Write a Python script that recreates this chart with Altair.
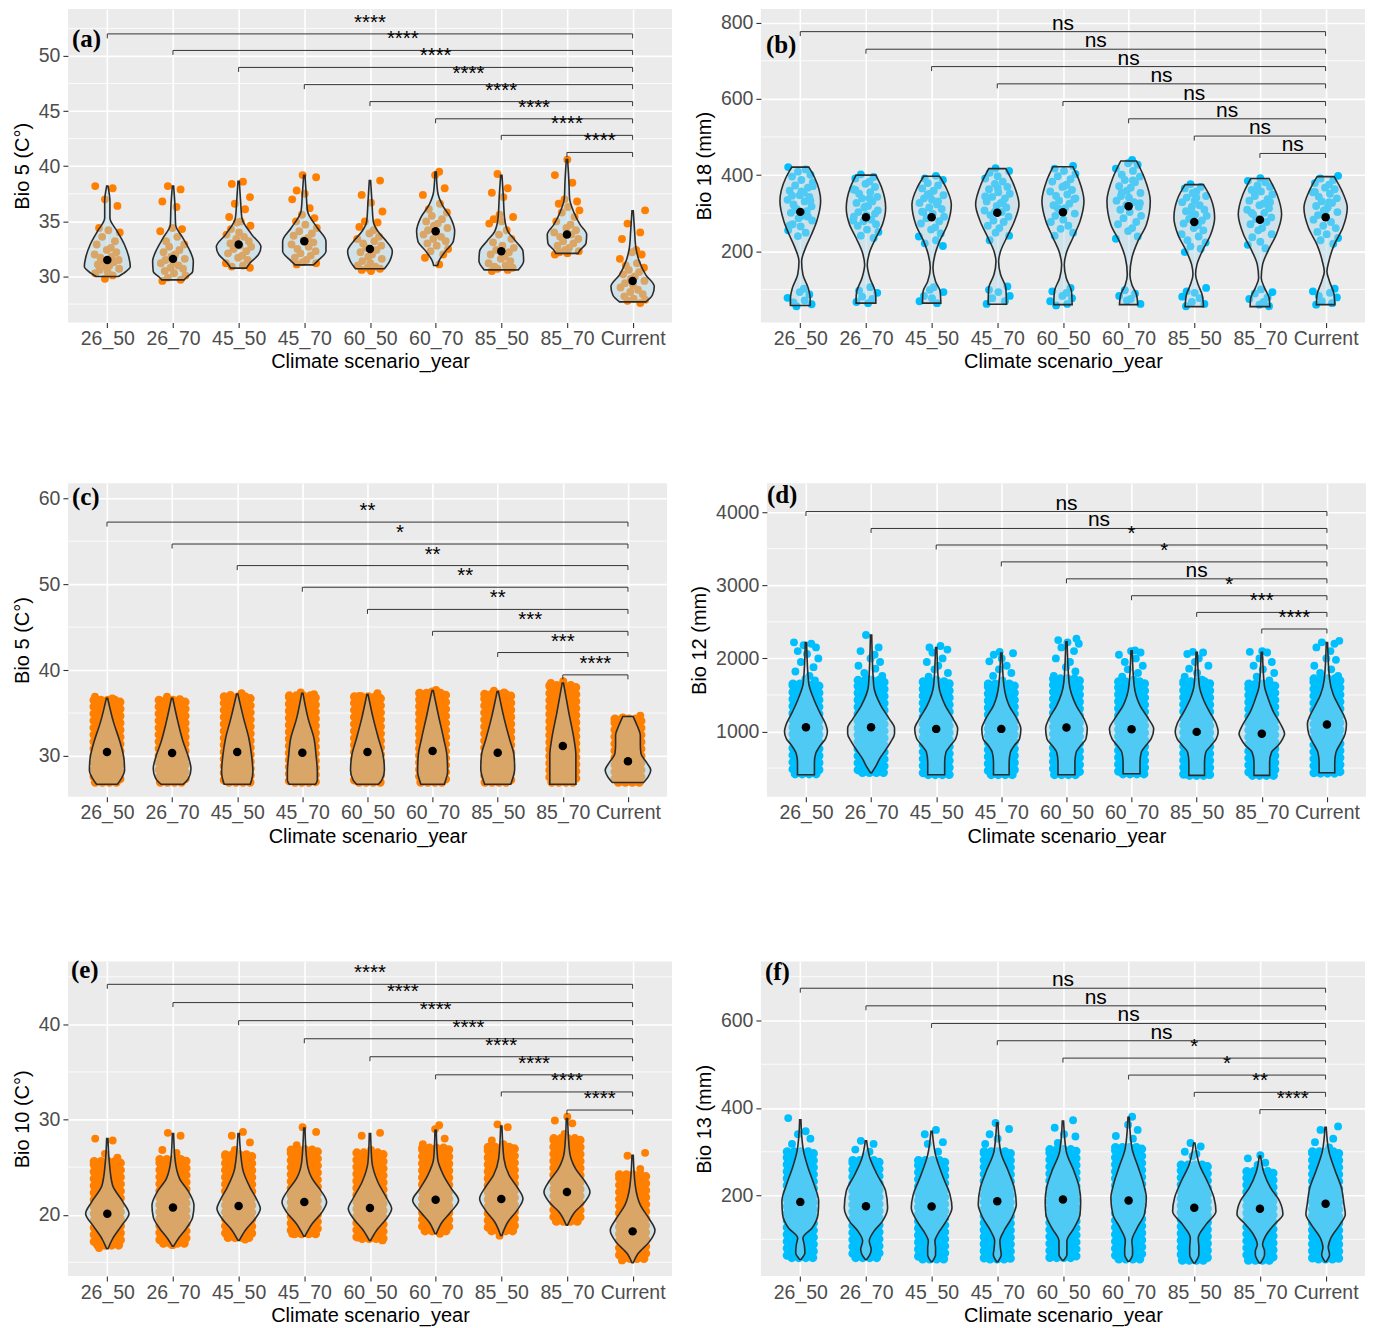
import altair as alt
import pandas as pd

CATS = ["26_50", "26_70", "45_50", "45_70", "60_50", "60_70", "85_50", "85_70", "Current"]
X_TITLE = "Climate scenario_year"
ORANGE = "#FF7F00"
BLUE = "#00BFFF"

# ---------------- panel (a) ----------------
A_YTITLE = "Bio 5 (C°)"
A_TICKS = [30, 35, 40, 45, 50]
A_MINOR = [27.5, 32.5, 37.5, 42.5, 47.5, 52.5]
A_DOMAIN = [25.83, 54.26]
A_MEANS = [31.5, 31.6, 32.9, 33.2, 32.5, 34.1, 32.3, 33.8, 29.6]
A_VIOLINS = [
    [[30.0, .17], [30.3, .25], [30.9, .35], [31.7, .33], [32.9, .26], [34.1, .15], [35.3, .04], [36.8, .04], [38.2, .01]],
    [[29.7, .17], [30.0, .22], [30.45, .3], [31.4, .31], [32.3, .26], [33.5, .15], [34.7, .04], [36.5, .03], [38.2, .01]],
    [[30.76, .12], [31.2, .17], [31.97, .3], [32.7, .34], [33.8, .2], [35.3, .05], [36.8, .03], [38.64, .01]],
    [[31.06, .14], [31.4, .2], [32.3, .33], [33.2, .33], [34.4, .2], [35.9, .05], [37.4, .03], [39.18, .01]],
    [[30.7, .22], [31.4, .3], [32.3, .34], [33.2, .25], [34.1, .12], [35.0, .05], [36.8, .03], [38.7, .01]],
    [[31.0, .03], [31.4, .05], [32.3, .15], [33.2, .27], [34.1, .29], [35.3, .23], [36.5, .1], [37.7, .03], [39.48, .01]],
    [[30.6, .26], [31.4, .34], [32.3, .33], [33.2, .22], [34.1, .1], [35.3, .05], [37.4, .03], [39.18, .01]],
    [[32.1, .17], [32.4, .2], [33.0, .29], [33.8, .3], [34.7, .2], [35.9, .1], [37.1, .04], [38.6, .03], [40.6, .01]],
    [[27.7, .2], [28.3, .3], [29.1, .33], [30.15, .2], [31.4, .1], [32.6, .05], [34.1, .03], [35.97, .01]],
]
A_POINTS = [
    [38.2, 38.0, 37.0, 36.4, 34.4, 34.2, 34.0, 33.6, 33.2, 32.9, 32.6, 32.4, 32.2, 32.0, 31.8, 31.7, 31.5, 31.4, 31.3, 31.1, 31.0, 30.9, 30.7, 30.6, 30.4, 30.3, 30.1, 29.8],
    [38.2, 37.9, 36.8, 36.3, 34.4, 34.3, 34.1, 33.6, 33.2, 32.9, 32.7, 32.4, 32.2, 32.0, 31.8, 31.6, 31.5, 31.3, 31.2, 31.0, 30.8, 30.7, 30.5, 30.3, 30.1, 29.9, 29.7, 29.6],
    [38.6, 38.4, 37.2, 36.6, 36.1, 35.4, 35.0, 34.9, 34.6, 34.3, 34.0, 33.8, 33.6, 33.4, 33.2, 33.0, 32.8, 32.7, 32.5, 32.3, 32.1, 31.9, 31.7, 31.5, 31.2, 31.0, 30.9, 30.8],
    [39.2, 39.0, 37.8, 37.5, 37.0, 36.2, 35.6, 35.3, 35.0, 34.7, 34.4, 34.1, 33.9, 33.7, 33.5, 33.3, 33.1, 32.9, 32.7, 32.5, 32.3, 32.1, 31.9, 31.7, 31.5, 31.3, 31.2, 31.1],
    [38.7, 37.4, 36.7, 35.9, 35.0, 34.9, 34.5, 34.2, 33.9, 33.6, 33.4, 33.2, 33.0, 32.8, 32.6, 32.4, 32.2, 32.0, 31.8, 31.6, 31.4, 31.2, 31.0, 30.9, 30.8, 30.7, 30.6, 30.5],
    [39.5, 39.2, 38.0, 37.4, 36.6, 36.1, 35.8, 35.5, 35.2, 35.0, 34.8, 34.6, 34.4, 34.2, 34.0, 33.8, 33.6, 33.4, 33.2, 33.0, 32.8, 32.5, 32.3, 32.0, 31.7, 31.1],
    [39.3, 38.0, 37.6, 37.2, 35.6, 35.4, 35.2, 35.0, 34.8, 34.2, 33.8, 33.4, 33.1, 32.8, 32.6, 32.4, 32.2, 32.0, 31.8, 31.6, 31.4, 31.2, 31.0, 30.9, 30.8, 30.7, 30.6, 30.5],
    [40.6, 39.2, 38.5, 37.0, 36.8, 36.6, 36.3, 36.0, 35.8, 35.4, 35.0, 34.7, 34.4, 34.2, 34.0, 33.8, 33.6, 33.4, 33.2, 33.0, 32.8, 32.6, 32.4, 32.3, 32.2, 32.1, 32.0],
    [36.0, 34.8, 34.0, 33.4, 32.4, 32.2, 32.0, 31.6, 31.2, 31.0, 30.8, 30.6, 30.4, 30.2, 30.0, 29.8, 29.6, 29.4, 29.2, 29.0, 28.8, 28.6, 28.4, 28.2, 28.0, 27.9, 27.8, 27.6],
]
A_BRACKET_Y = [52.0, 50.5, 48.96, 47.4, 45.86, 44.3, 42.8, 41.25]
A_SIGNIF = ["****", "****", "****", "****", "****", "****", "****", "****"]

# ---------------- panel (b) ----------------
B_YTITLE = "Bio 18 (mm)"
B_TICKS = [200, 400, 600, 800]
B_MINOR = [100, 300, 500, 700]
B_DOMAIN = [13.2, 835.9]
B_MEANS = [303.5, 289.5, 289.5, 301, 302.7, 318.4, 277, 283, 289.5]
B_VIOLINS = [
    [[58, .15], [77, .15], [104, .12], [139, .04], [174, .02], [209, .08], [244, .17], [279, .25], [332, .31], [393, .22], [421, .13]],
    [[64, .15], [77, .15], [95, .14], [130, .06], [165, .02], [200, .06], [235, .15], [270, .25], [314, .3], [367, .24], [400, .15]],
    [[64, .14], [95, .13], [121, .06], [156, .02], [191, .05], [226, .12], [270, .24], [323, .3], [367, .22], [397, .12]],
    [[61, .14], [104, .13], [139, .05], [174, .02], [200, .05], [235, .14], [279, .26], [323, .33], [375, .25], [417, .13]],
    [[60, .14], [95, .13], [130, .05], [165, .02], [200, .06], [235, .15], [279, .26], [332, .32], [384, .25], [422, .15]],
    [[60, .14], [86, .12], [112, .05], [139, .02], [183, .05], [226, .14], [270, .27], [332, .33], [393, .24], [437, .12]],
    [[55, .14], [86, .12], [112, .06], [139, .02], [165, .04], [200, .12], [244, .25], [288, .31], [340, .25], [375, .14]],
    [[55, .15], [77, .14], [104, .07], [130, .02], [165, .04], [200, .12], [244, .25], [297, .33], [349, .26], [391, .14]],
    [[60, .14], [86, .13], [121, .06], [147, .02], [174, .05], [217, .13], [261, .26], [314, .33], [358, .25], [396, .13]],
]
B_POINTS = [
    [421, 415, 409, 401, 396, 387, 381, 373, 367, 359, 354, 347, 343, 335, 331, 323, 318, 311, 305, 301, 293, 287, 281, 271, 265, 255, 249, 240, 333, 346, 357, 371, 309, 291, 268, 102, 93, 87, 78, 71, 66, 61, 56],
    [402, 395, 391, 383, 377, 369, 363, 355, 351, 343, 339, 331, 327, 319, 315, 307, 303, 295, 291, 283, 279, 271, 267, 257, 251, 241, 235, 361, 339, 318, 299, 281, 106, 97, 91, 81, 75, 67, 64],
    [398, 391, 387, 379, 373, 365, 359, 351, 347, 339, 335, 327, 323, 315, 311, 303, 299, 291, 287, 279, 273, 263, 257, 247, 239, 229, 221, 214, 349, 331, 304, 106, 99, 93, 83, 77, 69, 64],
    [418, 411, 406, 397, 391, 383, 377, 369, 363, 355, 351, 343, 339, 331, 327, 319, 315, 307, 303, 295, 291, 281, 277, 267, 261, 249, 241, 229, 366, 344, 326, 304, 108, 99, 93, 83, 77, 69, 62],
    [424, 417, 411, 403, 397, 389, 383, 375, 369, 361, 357, 349, 345, 337, 333, 325, 321, 313, 309, 299, 293, 283, 277, 267, 259, 249, 241, 371, 339, 313, 104, 95, 91, 83, 77, 69, 62, 58],
    [440, 431, 427, 417, 411, 401, 396, 387, 381, 371, 367, 359, 353, 345, 341, 333, 329, 321, 317, 309, 303, 293, 287, 277, 271, 261, 253, 239, 233, 386, 354, 326, 98, 89, 83, 75, 71, 62],
    [376, 369, 365, 357, 353, 345, 341, 333, 329, 321, 317, 309, 305, 297, 293, 285, 281, 273, 269, 261, 255, 245, 239, 229, 223, 213, 207, 198, 341, 299, 104, 95, 91, 81, 77, 67, 62, 56],
    [392, 385, 381, 373, 369, 361, 357, 349, 345, 337, 333, 325, 321, 313, 309, 301, 297, 289, 285, 277, 271, 261, 255, 245, 237, 225, 217, 208, 361, 329, 301, 100, 93, 89, 79, 75, 67, 60, 56],
    [398, 391, 387, 379, 375, 367, 363, 355, 351, 343, 339, 331, 327, 319, 315, 307, 303, 295, 291, 283, 277, 267, 261, 251, 245, 235, 229, 220, 356, 329, 306, 102, 95, 91, 83, 79, 69, 64, 60],
]
B_BRACKET_Y = [776.4, 730.3, 684.7, 639.4, 593.0, 547.7, 502.4, 456.8]
B_SIGNIF = ["ns", "ns", "ns", "ns", "ns", "ns", "ns", "ns"]

# ---------------- panel (c) ----------------
C_YTITLE = "Bio 5 (C°)"
C_TICKS = [30, 40, 50, 60]
C_MINOR = [35, 45, 55]
C_DOMAIN = [25.25, 61.74]
C_MEANS = [30.46, 30.35, 30.46, 30.39, 30.46, 30.58, 30.39, 31.16, 29.38]
C_VIOLINS = [
    [[26.72, .16], [27.37, .22], [28.34, .27], [29.69, .26], [31.62, .2], [33.94, .1], [36.72, .01]],
    [[26.72, .17], [27.37, .25], [28.53, .29], [29.88, .25], [31.62, .17], [33.94, .09], [36.72, .01]],
    [[26.72, .2], [27.18, .22], [28.15, .24], [30.08, .22], [32.01, .18], [34.32, .1], [37.22, .01]],
    [[26.72, .2], [27.18, .23], [28.15, .23], [30.08, .21], [32.01, .18], [34.32, .09], [37.30, .01]],
    [[26.72, .17], [27.18, .22], [28.34, .26], [30.08, .24], [32.01, .17], [34.32, .09], [37.14, .01]],
    [[26.72, .18], [27.18, .2], [28.15, .23], [30.08, .22], [32.01, .17], [34.71, .09], [37.61, .01]],
    [[26.72, .2], [27.37, .23], [28.53, .26], [30.08, .25], [32.01, .18], [34.32, .1], [37.49, .01]],
    [[26.72, .2], [27.18, .2], [28.15, .2], [30.08, .2], [32.01, .17], [35.10, .09], [38.49, .01]],
    [[26.91, .24], [27.57, .31], [28.34, .35], [29.31, .28], [30.27, .2], [31.24, .19], [32.4, .19], [33.55, .14], [34.59, .08]],
]
C_CLOUDS = [[26.95, 36.5], [26.95, 36.5], [26.95, 36.9], [26.95, 37.0], [26.95, 36.9],
            [26.95, 37.3], [26.95, 37.2], [26.95, 38.2], [26.95, 34.3]]
C_POINTS = [
    [36.9, 36.7, 36.4, 35.9], [36.9, 36.6, 36.3, 35.8], [37.3, 37.1, 36.6, 36.2],
    [37.4, 37.2, 36.8, 36.3], [37.3, 37.0, 36.6, 36.0], [37.7, 37.5, 37.0, 36.4],
    [37.6, 37.4, 36.9, 36.4], [38.7, 38.5, 38.0, 37.5], [34.7, 34.5, 34.2, 33.8],
]
C_BRACKET_Y = [57.22, 54.67, 52.16, 49.64, 47.06, 44.51, 42.04, 39.44]
C_SIGNIF = ["**", "*", "**", "**", "**", "***", "***", "****"]

# ---------------- panel (d) ----------------
D_YTITLE = "Bio 12 (mm)"
D_TICKS = [1000, 2000, 3000, 4000]
D_MINOR = [500, 1500, 2500, 3500]
D_DOMAIN = [107, 4395]
D_MEANS = [1059, 1059, 1036, 1036, 1055, 1032, 995, 968, 1095]
D_VIOLINS = [
    [[409, .13], [582, .13], [700, .15], [809, .22], [900, .3], [1000, .33], [1082, .31], [1264, .21], [1445, .12], [1673, .04], [2218, .01]],
    [[436, .01], [536, .08], [627, .13], [718, .2], [855, .3], [968, .36], [1045, .36], [1173, .28], [1355, .15], [1627, .04], [2318, .01]],
    [[409, .13], [582, .13], [718, .15], [809, .22], [900, .3], [1036, .33], [1173, .26], [1355, .14], [1627, .04], [2150, .01]],
    [[409, .12], [582, .12], [718, .14], [809, .2], [900, .28], [1036, .3], [1173, .24], [1355, .12], [1627, .04], [2073, .01]],
    [[409, .13], [582, .13], [718, .15], [809, .22], [900, .3], [1045, .32], [1173, .27], [1355, .15], [1673, .04], [2227, .01]],
    [[423, .13], [582, .13], [718, .15], [809, .22], [900, .3], [1036, .34], [1173, .26], [1355, .13], [1627, .04], [2104, .01]],
    [[400, .12], [582, .12], [718, .14], [809, .22], [900, .3], [1000, .33], [1105, .3], [1264, .2], [1445, .1], [1627, .04], [2082, .01]],
    [[400, .12], [582, .12], [718, .15], [809, .25], [900, .32], [968, .35], [1082, .3], [1264, .18], [1445, .1], [1627, .04], [2082, .01]],
    [[436, .12], [582, .12], [718, .14], [855, .22], [968, .28], [1105, .3], [1218, .26], [1355, .18], [1500, .1], [1718, .04], [2218, .01]],
]
D_CLOUDS = [[420, 1650], [440, 1700], [410, 1680], [410, 1650], [410, 1720],
            [420, 1680], [400, 1680], [400, 1650], [430, 1720]]
D_POINTS = [
    [2220, 2200, 2180, 2150, 2100, 2060, 2000, 1950, 1880, 1820, 1760, 1720, 1700],
    [2320, 2150, 2100, 2050, 2000, 1950, 1900, 1860, 1800, 1760, 1720],
    [2170, 2150, 2120, 2080, 2000, 1950, 1900, 1850, 1800, 1750, 1710],
    [2090, 2070, 2050, 2000, 1960, 1900, 1850, 1800, 1760, 1700],
    [2270, 2250, 2220, 2200, 2150, 2100, 2000, 1950, 1880, 1820, 1760],
    [2110, 2100, 2080, 2050, 2000, 1950, 1900, 1850, 1800, 1750, 1710],
    [2090, 2080, 2060, 2000, 1950, 1900, 1860, 1800, 1750, 1710],
    [2100, 2090, 2080, 2000, 1950, 1900, 1850, 1800, 1750, 1700],
    [2240, 2220, 2200, 2150, 2100, 2000, 1980, 1900, 1850, 1800, 1760],
]
D_BRACKET_Y = [4008, 3777, 3551, 3320, 3088, 2857, 2629, 2402]
D_SIGNIF = ["ns", "ns", "*", "*", "ns", "*", "***", "****"]

# ---------------- panel (e) ----------------
E_YTITLE = "Bio 10 (C°)"
E_TICKS = [20, 30, 40]
E_MINOR = [15, 25, 35, 45]
E_DOMAIN = [13.55, 46.6]
E_MEANS = [20.1, 20.77, 20.91, 21.33, 20.7, 21.58, 21.65, 22.39, 18.25]
E_VIOLINS = [
    [[16.42, .01], [17.47, .08], [18.88, .22], [20.1, .33], [21.33, .24], [23.09, .08], [25.54, .03], [28.0, .01]],
    [[16.7, .01], [17.47, .08], [18.53, .2], [19.75, .3], [20.98, .32], [22.39, .24], [23.79, .1], [25.89, .03], [28.53, .01]],
    [[17.3, .01], [18.35, .1], [19.58, .25], [20.63, .33], [21.68, .27], [22.91, .17], [24.84, .06], [28.53, .01]],
    [[17.75, .01], [19.05, .12], [20.28, .27], [21.33, .34], [22.56, .25], [23.79, .12], [25.54, .04], [29.12, .01]],
    [[17.3, .01], [18.35, .1], [19.58, .25], [20.63, .33], [21.68, .26], [23.44, .12], [25.54, .03], [28.53, .01]],
    [[18.0, .01], [19.23, .1], [20.28, .23], [21.51, .35], [22.74, .24], [24.14, .12], [25.89, .03], [28.88, .01]],
    [[17.82, .01], [19.23, .1], [20.46, .24], [21.68, .33], [22.91, .24], [24.14, .12], [25.89, .04], [29.33, .01]],
    [[18.9, .01], [20.28, .12], [21.33, .27], [22.39, .35], [23.44, .28], [24.84, .13], [26.6, .04], [30.1, .01]],
    [[14.95, .01], [15.9, .08], [17.12, .25], [18.35, .34], [19.58, .25], [20.98, .12], [23.09, .04], [26.25, .01]],
]
E_CLOUDS = [[16.8, 25.6], [17.0, 25.8], [17.6, 26.3], [18.0, 26.8], [17.5, 26.5],
            [18.3, 27.0], [18.3, 27.1], [19.3, 28.0], [15.4, 24.2]]
E_POINTS = [
    [28.0, 27.8, 26.4, 26.0, 16.5], [28.6, 28.3, 26.8, 26.5, 16.8], [28.7, 28.3, 27.6, 26.8, 17.4],
    [29.2, 28.7, 27.3, 26.9, 18.0], [28.6, 28.3, 26.8, 17.3], [29.4, 29.0, 28.0, 27.4, 18.0],
    [29.5, 29.2, 27.8, 27.4, 17.8], [30.3, 29.9, 29.6, 28.5], [26.5, 26.2, 24.8, 15.2],
]
E_BRACKET_Y = [44.21, 42.29, 40.39, 38.49, 36.6, 34.7, 32.9, 31.0]
E_SIGNIF = ["****", "****", "****", "****", "****", "****", "****", "****"]

# ---------------- panel (f) ----------------
F_YTITLE = "Bio 13 (mm)"
F_TICKS = [200, 400, 600]
F_MINOR = [100, 300, 500, 700]
F_DOMAIN = [15.9, 734.6]
F_MEANS = [185.5, 175.7, 174.9, 187, 190.9, 188.6, 171.9, 169.6, 181]
F_VIOLINS = [
    [[54, .01], [69, .07], [88, .06], [103, .04], [126, .18], [157, .27], [187, .28], [225, .21], [263, .12], [301, .05], [340, .02], [373, .01]],
    [[54, .01], [65, .06], [77, .08], [96, .05], [118, .12], [141, .25], [172, .33], [210, .3], [248, .17], [286, .06], [325, .01]],
    [[49, .01], [65, .06], [80, .06], [96, .05], [111, .09], [141, .22], [172, .31], [202, .28], [240, .18], [293, .06], [347, .01]],
    [[49, .01], [65, .06], [77, .05], [96, .04], [119, .1], [149, .22], [180, .29], [217, .26], [255, .17], [301, .05], [366, .01]],
    [[52, .01], [65, .06], [77, .06], [96, .06], [126, .17], [157, .26], [187, .27], [217, .25], [255, .17], [301, .05], [370, .01]],
    [[50, .01], [65, .06], [77, .06], [96, .05], [126, .13], [157, .24], [194, .27], [225, .23], [263, .15], [309, .05], [379, .01]],
    [[46, .01], [65, .07], [81, .07], [103, .06], [134, .18], [164, .33], [195, .3], [232, .2], [270, .08], [320, .01]],
    [[46, .01], [65, .07], [73, .07], [88, .04], [111, .1], [134, .22], [157, .35], [187, .3], [218, .16], [252, .06], [290, .01]],
    [[49, .01], [65, .06], [81, .04], [103, .08], [134, .22], [157, .3], [180, .28], [218, .24], [255, .15], [301, .05], [356, .01]],
]
F_CLOUDS = [[58, 300], [58, 280], [55, 280], [55, 300], [58, 305],
            [55, 310], [52, 270], [52, 255], [55, 300]]
F_POINTS = [
    [377, 347, 340, 330, 318], [325, 318, 305, 300, 290], [350, 340, 322, 318, 300],
    [366, 352, 340, 330, 318], [372, 355, 340, 335, 320], [380, 362, 350, 336, 330],
    [320, 312, 300, 295, 290], [292, 285, 275, 270], [358, 350, 330, 322, 310],
]
F_BRACKET_Y = [673.7, 633.5, 593.2, 553.7, 514.0, 475.2, 435.8, 396.3]
F_SIGNIF = ["ns", "ns", "ns", "ns", "*", "*", "**", "****"]

# ---------------- styling ----------------
JW = 0.2  # jitter half-width in category units
JIT = [-0.92, 0.41, -0.18, 0.77, -0.63, 0.08, 0.95, -0.39, 0.58, -0.81, 0.27, -0.04, 0.69,
       -0.97, 0.33, -0.52, 0.86, -0.29, 0.49, -0.72, 0.16, -0.13, 0.9, -0.58, 0.03]
LABEL_EXPR = "[" + ",".join("'%s'" % c for c in CATS) + "][datum.value - 1]"


def xenc(field):
    return alt.X(field + ":Q",
                 scale=alt.Scale(domain=[0.4, 9.6], nice=False, zero=False),
                 axis=alt.Axis(values=list(range(1, 10)), labelExpr=LABEL_EXPR, title=X_TITLE,
                               labelOverlap=False, labelFlush=False, grid=True),
                 stack=False)


def make_yenc(domain, ticks, ytitle):
    def yenc(field):
        return alt.Y(field + ":Q",
                     scale=alt.Scale(domain=domain, nice=False, zero=False),
                     axis=alt.Axis(values=ticks, title=ytitle, format="d",
                                   labelOverlap=False, grid=True),
                     stack=False)
    return yenc


def panel(tag, ytitle, ticks, minor, domain, means, violins, points, clouds,
          bracket_y, signif, color, w, h, lab_x, lab_y):
    yenc = make_yenc(domain, ticks, ytitle)
    layers = []

    minor_df = pd.DataFrame({"y": minor})
    layers.append(alt.Chart(minor_df).mark_rule(color="white", strokeWidth=0.8).encode(y=yenc("y")))

    if clouds:
        cdf = pd.DataFrame([{"x1": i + 1 - JW, "x2": i + 1 + JW, "lo": c[0], "hi": c[1]}
                            for i, c in enumerate(clouds)])
        # dense jitter cloud: filled core plus a dotted rim that mimics the edge points
        layers.append(alt.Chart(cdf).mark_rect(color=color, stroke=color, strokeWidth=9,
                                               strokeDash=[0, 7], strokeCap="round",
                                               opacity=1).encode(
            x=xenc("x1"), x2=alt.X2("x2"), y=yenc("lo"), y2=alt.Y2("hi")))

    prow = []
    for i, vals in enumerate(points):
        for k, v in enumerate(vals):
            prow.append({"px": i + 1 + JW * JIT[(k + 7 * i) % len(JIT)], "y": v})
    pdf = pd.DataFrame(prow)
    layers.append(alt.Chart(pdf).mark_circle(size=62, color=color, opacity=1).encode(
        x=xenc("px"), y=yenc("y")))

    vrow = []
    for i, shape in enumerate(violins):
        for yv, hw in sorted(shape):
            vrow.append({"g": i, "y": yv, "xl": i + 1 - hw, "xr": i + 1 + hw})
    vdf = pd.DataFrame(vrow)
    layers.append(alt.Chart(vdf).mark_area(orient="horizontal", interpolate="monotone",
                                           fill="#ADD8E6", fillOpacity=0.45,
                                           stroke="#2B2B2B", strokeWidth=1.6).encode(
        y=yenc("y"), x=xenc("xl"), x2=alt.X2("xr"), detail="g:N"))

    mdf = pd.DataFrame({"x": list(range(1, 10)), "y": means})
    layers.append(alt.Chart(mdf).mark_circle(size=72, color="black", opacity=1).encode(
        x=xenc("x"), y=yenc("y")))

    tip = 4.5 * (domain[1] - domain[0]) / h
    bdf = pd.DataFrame([{"xs": i + 1, "xe": 9, "yb": yb, "xm": (i + 1 + 9) / 2, "lab": s,
                         "star": s.startswith("*")}
                        for i, (yb, s) in enumerate(zip(bracket_y, signif))])
    tdf = pd.DataFrame([{"xt": xt, "yb": yb, "yt": yb - tip}
                        for i, yb in enumerate(bracket_y) for xt in (i + 1, 9)])
    layers.append(alt.Chart(bdf).mark_rule(color="#333333", strokeWidth=1).encode(
        x=xenc("xs"), x2=alt.X2("xe"), y=yenc("yb")))
    layers.append(alt.Chart(tdf).mark_rule(color="#333333", strokeWidth=1).encode(
        x=xenc("xt"), y=yenc("yb"), y2=alt.Y2("yt")))
    sdf = bdf[bdf["star"]]
    ndf = bdf[~bdf["star"]]
    if len(sdf):
        layers.append(alt.Chart(sdf).mark_text(font="Liberation Sans", fontSize=20.5, color="black",
                                               baseline="alphabetic", dy=-5).encode(
            x=xenc("xm"), y=yenc("yb"), text="lab:N"))
    if len(ndf):
        layers.append(alt.Chart(ndf).mark_text(font="Liberation Sans", fontSize=21, color="black",
                                               baseline="alphabetic", dy=-2).encode(
            x=xenc("xm"), y=yenc("yb"), text="lab:N"))

    ldf = pd.DataFrame({"t": [tag]})
    layers.append(alt.Chart(ldf).mark_text(font="Liberation Serif", fontWeight="bold", fontSize=25,
                                           color="black", align="left", baseline="middle").encode(
        x=alt.value(lab_x), y=alt.value(lab_y), text="t:N"))

    return alt.layer(*layers).properties(width=w, height=h)


pa = panel("(a)", A_YTITLE, A_TICKS, A_MINOR, A_DOMAIN, A_MEANS, A_VIOLINS, A_POINTS, None,
           A_BRACKET_Y, A_SIGNIF, ORANGE, 605, 314, 4, 30)
pb = panel("(b)", B_YTITLE, B_TICKS, B_MINOR, B_DOMAIN, B_MEANS, B_VIOLINS, B_POINTS, None,
           B_BRACKET_Y, B_SIGNIF, BLUE, 605, 314, 5, 36)
pc = panel("(c)", C_YTITLE, C_TICKS, C_MINOR, C_DOMAIN, C_MEANS, C_VIOLINS, C_POINTS, C_CLOUDS,
           C_BRACKET_Y, C_SIGNIF, ORANGE, 600, 314, 4, 14)
pd_ = panel("(d)", D_YTITLE, D_TICKS, D_MINOR, D_DOMAIN, D_MEANS, D_VIOLINS, D_POINTS, D_CLOUDS,
            D_BRACKET_Y, D_SIGNIF, BLUE, 600, 314, 0, 12)
pe = panel("(e)", E_YTITLE, E_TICKS, E_MINOR, E_DOMAIN, E_MEANS, E_VIOLINS, E_POINTS, E_CLOUDS,
           E_BRACKET_Y, E_SIGNIF, ORANGE, 605, 315, 3, 8)
pf = panel("(f)", F_YTITLE, F_TICKS, F_MINOR, F_DOMAIN, F_MEANS, F_VIOLINS, F_POINTS, F_CLOUDS,
           F_BRACKET_Y, F_SIGNIF, BLUE, 605, 315, 4, 10)

row1 = alt.hconcat(pa, pb, spacing=21)
row2 = alt.hconcat(pc, pd_, spacing=21)
row3 = alt.hconcat(pe, pf, spacing=21)

chart = alt.vconcat(row1, row2, row3, spacing=111).properties(
    padding={"left": 4, "top": 0, "right": 0, "bottom": 0}
).configure_view(
    fill="#EBEBEB", strokeWidth=0
).configure_axis(
    labelFont="Liberation Sans", labelFontSize=19.5, labelColor="#4D4D4D",
    tickColor="#333333", tickSize=5, tickWidth=1.1, domain=False,
    gridColor="white", gridWidth=1.6,
    titleFont="Liberation Sans", titleFontSize=20, titleFontWeight="normal", titleColor="black"
).configure_axisX(
    labelPadding=2, titlePadding=4
).configure_axisY(
    labelPadding=3, titlePadding=6
)

chart.save("out.html", embed_options={"renderer": "svg", "actions": False})
